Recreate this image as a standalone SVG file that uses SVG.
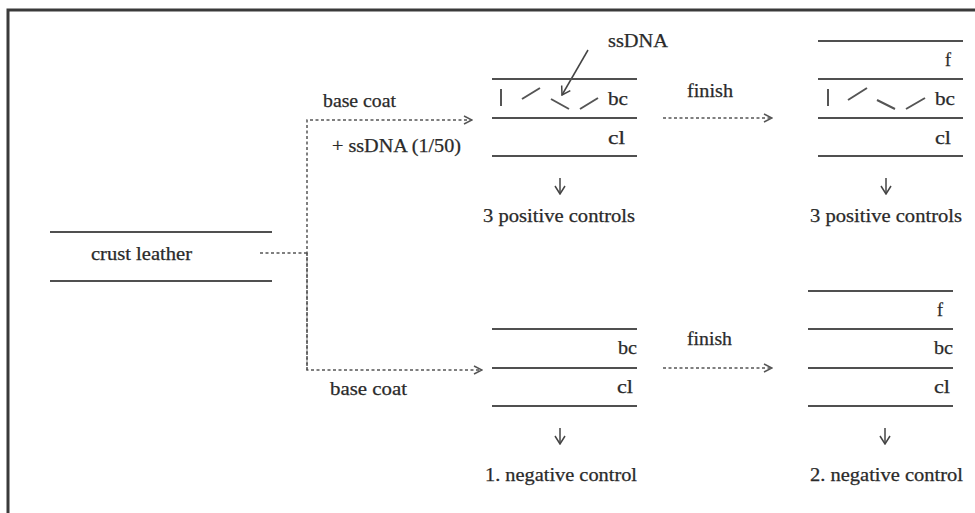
<svg xmlns="http://www.w3.org/2000/svg" width="975" height="513" viewBox="0 0 975 513">
<defs>
<style>
.bg{fill:#ffffff}
.frame{fill:none;stroke:#3a3a3a;stroke-width:3}
.layer{stroke:#505050;stroke-width:2;fill:none}
.dna{stroke:#555;stroke-width:2;fill:none}
.dash{stroke:#555;stroke-width:1.5;fill:none;stroke-dasharray:3,2.5}
.solid{stroke:#444;stroke-width:1.5;fill:none}
.t{font-family:"Liberation Serif","Times New Roman",serif;font-size:18px;fill:#2a2a2a;stroke:#2a2a2a;stroke-width:0.25}
</style>
<marker id="open" viewBox="0 0 10 10" refX="9" refY="5" markerWidth="10" markerHeight="10" markerUnits="userSpaceOnUse" orient="auto">
<path d="M1,1 L9,5 L1,9" fill="none" stroke="#555" stroke-width="1.5"/>
</marker>
<marker id="open-big" viewBox="0 0 12 12" refX="11" refY="6" markerWidth="12" markerHeight="12" markerUnits="userSpaceOnUse" orient="auto">
<path d="M3,1 L11,6 L3,11" fill="none" stroke="#444" stroke-width="1.5"/>
</marker>
</defs>
<rect class="bg" x="0" y="0" width="975" height="513"/>
<path class="frame" d="M8,513 L8,10 L975,10"/>

<g id="crust-leather">
<line class="layer" x1="50" y1="232" x2="272" y2="232"/>
<line class="layer" x1="50" y1="281" x2="272" y2="281"/>
<text class="t" x="91" y="260" textLength="101" lengthAdjust="spacingAndGlyphs">crust leather</text>
</g>

<g id="connectors">
<path class="dash" d="M260,253 L307,253"/>
<path class="dash" d="M307,370 L307,120 L472,120" marker-end="url(#open)"/>
<path class="dash" d="M307,253 L307,370 L482,370" marker-end="url(#open)"/>
<path class="dash" d="M663,118 L772,118" marker-end="url(#open)"/>
<path class="dash" d="M663,368 L772,368" marker-end="url(#open)"/>
<path class="solid" d="M588,50 L562,95" marker-end="url(#open-big)"/>
<path class="solid" d="M560,178 L560,194" marker-end="url(#open-big)"/>
<path class="solid" d="M886,178 L886,194" marker-end="url(#open-big)"/>
<path class="solid" d="M560,428 L560,444" marker-end="url(#open-big)"/>
<path class="solid" d="M885,428 L885,444" marker-end="url(#open-big)"/>
</g>

<g id="labels">
<text class="t" x="323" y="107" textLength="73" lengthAdjust="spacingAndGlyphs">base coat</text>
<text class="t" x="332" y="152" textLength="129" lengthAdjust="spacingAndGlyphs">+ ssDNA (1/50)</text>
<text class="t" x="608" y="47" textLength="60" lengthAdjust="spacingAndGlyphs">ssDNA</text>
<text class="t" x="687" y="97" textLength="46" lengthAdjust="spacingAndGlyphs">finish</text>
<text class="t" x="330" y="395" textLength="77" lengthAdjust="spacingAndGlyphs">base coat</text>
<text class="t" x="687" y="345" textLength="45" lengthAdjust="spacingAndGlyphs">finish</text>
</g>

<g id="positive-basecoat">
<line class="layer" x1="492" y1="79" x2="637" y2="79"/>
<line class="layer" x1="492" y1="118" x2="637" y2="118"/>
<line class="layer" x1="492" y1="156" x2="637" y2="156"/>
<path class="dna" d="M501,89 L501,106 M522,99 L540,88 M551,99 L569,109 M580,109 L598,98"/>
<text class="t" x="608" y="105" textLength="20" lengthAdjust="spacingAndGlyphs">bc</text>
<text class="t" x="608" y="144" textLength="17" lengthAdjust="spacingAndGlyphs">cl</text>
<text class="t" x="483" y="222" textLength="152" lengthAdjust="spacingAndGlyphs">3 positive controls</text>
</g>

<g id="positive-finish">
<line class="layer" x1="818" y1="41" x2="963" y2="41"/>
<line class="layer" x1="818" y1="79" x2="963" y2="79"/>
<line class="layer" x1="818" y1="118" x2="963" y2="118"/>
<line class="layer" x1="818" y1="156" x2="963" y2="156"/>
<path class="dna" d="M828,89 L828,106 M848,100 L867,88 M877,100 L895,109 M906,109 L925,98"/>
<text class="t" x="945" y="66" textLength="6" lengthAdjust="spacingAndGlyphs">f</text>
<text class="t" x="935" y="105" textLength="20" lengthAdjust="spacingAndGlyphs">bc</text>
<text class="t" x="935" y="144" textLength="16" lengthAdjust="spacingAndGlyphs">cl</text>
<text class="t" x="810" y="222" textLength="152" lengthAdjust="spacingAndGlyphs">3 positive controls</text>
</g>

<g id="negative-basecoat">
<line class="layer" x1="492" y1="329" x2="637" y2="329"/>
<line class="layer" x1="492" y1="368" x2="637" y2="368"/>
<line class="layer" x1="492" y1="406" x2="637" y2="406"/>
<text class="t" x="618" y="354" textLength="19" lengthAdjust="spacingAndGlyphs">bc</text>
<text class="t" x="617" y="393" textLength="16" lengthAdjust="spacingAndGlyphs">cl</text>
<text class="t" x="485" y="481" textLength="152" lengthAdjust="spacingAndGlyphs">1. negative control</text>
</g>

<g id="negative-finish">
<line class="layer" x1="808" y1="291" x2="953" y2="291"/>
<line class="layer" x1="808" y1="329" x2="953" y2="329"/>
<line class="layer" x1="808" y1="368" x2="953" y2="368"/>
<line class="layer" x1="808" y1="406" x2="953" y2="406"/>
<text class="t" x="937" y="316" textLength="6" lengthAdjust="spacingAndGlyphs">f</text>
<text class="t" x="934" y="354" textLength="19" lengthAdjust="spacingAndGlyphs">bc</text>
<text class="t" x="934" y="393" textLength="16" lengthAdjust="spacingAndGlyphs">cl</text>
<text class="t" x="810" y="481" textLength="153" lengthAdjust="spacingAndGlyphs">2. negative control</text>
</g>
</svg>
